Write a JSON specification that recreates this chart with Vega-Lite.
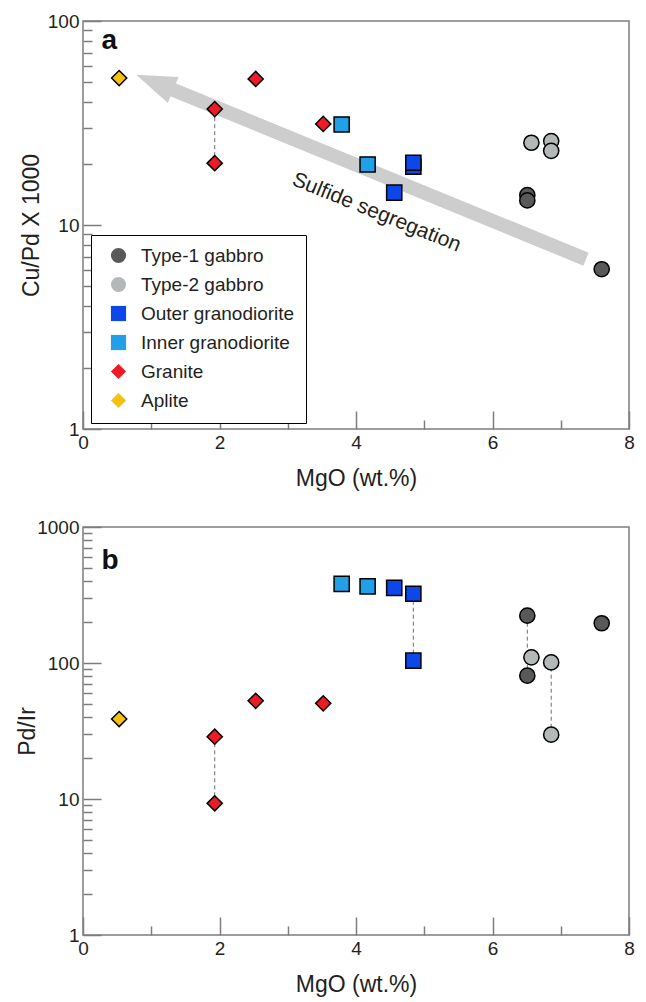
{
  "$schema": "https://vega.github.io/schema/vega-lite/v6.json",
  "padding": {"left": 15, "top": 11, "right": 4, "bottom": 8},
  "spacing": 26,
  "config": {
    "font": "Liberation Sans",
    "view": {"stroke": "#7d7d7d", "strokeWidth": 1.5},
    "axis": {
      "grid": false, "domain": false, "tickColor": "#7d7d7d", "tickWidth": 1.5,
      "labelFontSize": 19, "labelColor": "#231f20", "labelFont": "Liberation Sans",
      "titleFont": "Liberation Sans", "titleFontSize": 23, "titleFontWeight": "normal", "titleColor": "#231f20",
      "labelFlush": false, "labelOverlap": false, "labelPadding": 22
    }
  },
  "datasets": {
    "samples": [
      {"group": "Aplite", "mgo": 0.53, "cupd": 52.5, "pdir": 38.7},
      {"group": "Granite", "mgo": 1.93, "cupd": 37, "pdir": 28.7},
      {"group": "Granite", "mgo": 1.93, "cupd": 20.1, "pdir": 9.3},
      {"group": "Granite", "mgo": 2.53, "cupd": 52, "pdir": 52.7},
      {"group": "Granite", "mgo": 3.52, "cupd": 31.3, "pdir": 50.5},
      {"group": "Inner granodiorite", "mgo": 3.79, "cupd": 31.1, "pdir": 382},
      {"group": "Inner granodiorite", "mgo": 4.17, "cupd": 19.8, "pdir": 366},
      {"group": "Outer granodiorite", "mgo": 4.56, "cupd": 14.4, "pdir": 357},
      {"group": "Outer granodiorite", "mgo": 4.84, "cupd": 19.3, "pdir": 104},
      {"group": "Outer granodiorite", "mgo": 4.84, "cupd": 20.2, "pdir": 323},
      {"group": "Type-1 gabbro", "mgo": 6.51, "cupd": 14.0, "pdir": 223},
      {"group": "Type-1 gabbro", "mgo": 6.51, "cupd": 13.2, "pdir": 80.7},
      {"group": "Type-1 gabbro", "mgo": 7.6, "cupd": 6.07, "pdir": 196},
      {"group": "Type-2 gabbro", "mgo": 6.57, "cupd": 25.3, "pdir": 110},
      {"group": "Type-2 gabbro", "mgo": 6.86, "cupd": 25.8, "pdir": 101},
      {"group": "Type-2 gabbro", "mgo": 6.86, "cupd": 23.1, "pdir": 29.7}
    ],
    "linksA": [
      {"mgo": 1.93, "lo": 20.1, "hi": 37}
    ],
    "linksB": [
      {"mgo": 1.93, "lo": 9.3, "hi": 28.7},
      {"mgo": 4.84, "lo": 104, "hi": 323},
      {"mgo": 6.51, "lo": 80.7, "hi": 223},
      {"mgo": 6.86, "lo": 29.7, "hi": 101}
    ],
    "arrowA": [
      {"mgo": 7.37, "cupd": 6.8},
      {"mgo": 1.3, "cupd": 46.3}
    ]
  },
  "resolve": {
    "scale": {"x": "independent", "y": "independent", "fill": "independent", "shape": "independent"},
    "legend": {"fill": "independent", "shape": "independent"}
  },
  "vconcat": [
    {
      "width": 546,
      "height": 408,
      "layer": [
        {
          "data": {"name": "arrowA"},
          "mark": {"type": "line", "color": "#cdcdcd", "strokeWidth": 14, "strokeCap": "butt"},
          "encoding": {
            "x": {"field": "mgo", "type": "quantitative", "scale": {"domain": [0, 8], "nice": false, "zero": false}},
            "y": {"field": "cupd", "type": "quantitative", "scale": {"type": "log", "domain": [1, 100], "nice": false}}
          }
        },
        {
          "data": {"values": [{}]},
          "mark": {"type": "point", "shape": "M0,0L2.115,0.117L1.581,1.411Z", "size": 1600, "filled": true, "color": "#cdcdcd", "opacity": 1, "strokeWidth": 0},
          "encoding": {
            "x": {"datum": 0.78, "type": "quantitative", "scale": {"domain": [0, 8], "nice": false, "zero": false}},
            "y": {"datum": 54.5, "type": "quantitative", "scale": {"type": "log", "domain": [1, 100], "nice": false}}
          }
        },
        {
          "data": {"values": [{}]},
          "mark": {"type": "text", "text": "Sulfide segregation", "angle": 22, "fontSize": 21, "align": "center", "baseline": "middle", "color": "#231f20"},
          "encoding": {
            "x": {"datum": 4.3, "type": "quantitative", "scale": {"domain": [0, 8], "nice": false, "zero": false}},
            "y": {"datum": 11.5, "type": "quantitative", "scale": {"type": "log", "domain": [1, 100], "nice": false}}
          }
        },
        {
          "data": {"values": [{}]},
          "mark": {"type": "text", "text": "a", "fontSize": 28, "fontWeight": "bold", "align": "left", "baseline": "alphabetic", "color": "#111111"},
          "encoding": {
            "x": {"datum": 0.27, "type": "quantitative", "scale": {"domain": [0, 8], "nice": false, "zero": false}},
            "y": {"datum": 72.9, "type": "quantitative", "scale": {"type": "log", "domain": [1, 100], "nice": false}}
          }
        },
        {
          "data": {"name": "linksA"},
          "mark": {"type": "rule", "color": "#6d6d6d", "strokeWidth": 1, "strokeDash": [4, 3]},
          "encoding": {
            "x": {"field": "mgo", "type": "quantitative", "scale": {"domain": [0, 8], "nice": false, "zero": false}},
            "y": {"field": "lo", "type": "quantitative", "scale": {"type": "log", "domain": [1, 100], "nice": false}},
            "y2": {"field": "hi"}
          }
        },
        {
          "data": {"name": "samples"},
          "mark": {"type": "point", "filled": true, "size": 230, "stroke": "black", "strokeWidth": 1.5, "opacity": 1},
          "encoding": {
            "x": {
              "field": "mgo", "type": "quantitative",
              "scale": {"domain": [0, 8], "nice": false, "zero": false},
              "axis": {
                "title": "MgO (wt.%)", "values": [0, 1, 2, 3, 4, 5, 6, 7, 8],
                "labelExpr": "datum.value % 2 == 0 ? toString(datum.value) : ''",
                "tickSize": {"condition": {"test": "datum.value % 2 == 0", "value": -18}, "value": -9},
                "titlePadding": 6
              }
            },
            "y": {
              "field": "cupd", "type": "quantitative",
              "scale": {"type": "log", "domain": [1, 100], "nice": false},
              "axis": {
                "title": "Cu/Pd X 1000",
                "values": [1, 2, 3, 4, 5, 6, 7, 8, 9, 10, 20, 30, 40, 50, 60, 70, 80, 90, 100],
                "labelExpr": "indexof([1,10,100,1000], datum.value) >= 0 ? toString(datum.value) : ''",
                "tickSize": {"condition": {"test": "indexof([1,10,100,1000], datum.value) >= 0", "value": -18}, "value": -9},
                "titlePadding": 4
              }
            },
            "fill": {
              "field": "group", "type": "nominal",
              "scale": {
                "domain": ["Type-1 gabbro", "Type-2 gabbro", "Outer granodiorite", "Inner granodiorite", "Granite", "Aplite"],
                "range": ["#58595b", "#b5b8b8", "#0d47ea", "#21a0e8", "#ed1c24", "#f4c20d"]
              },
              "legend": {
                "title": null, "orient": "none", "legendX": 8, "legendY": 214,
                "fillColor": "white", "strokeColor": "black", "padding": 11,
                "symbolOffset": 7, "symbolSize": 230, "symbolStrokeColor": "black", "symbolStrokeWidth": 1.5,
                "labelFontSize": 19, "labelColor": "#231f20", "labelFont": "Liberation Sans",
                "labelExpr": "datum.label + '\u00a0\u00a0\u00a0'",
                "rowPadding": 6, "labelOffset": 13, "labelLimit": 300
              }
            },
            "shape": {
              "field": "group", "type": "nominal",
              "scale": {
                "domain": ["Type-1 gabbro", "Type-2 gabbro", "Outer granodiorite", "Inner granodiorite", "Granite", "Aplite"],
                "range": ["circle", "circle", "square", "square", "diamond", "diamond"]
              },
              "legend": {
                "title": null, "orient": "none", "legendX": 8, "legendY": 214,
                "fillColor": "white", "strokeColor": "black", "padding": 11,
                "symbolOffset": 7, "symbolSize": 230, "symbolStrokeColor": "black", "symbolStrokeWidth": 1.5,
                "labelFontSize": 19, "labelColor": "#231f20", "labelFont": "Liberation Sans",
                "labelExpr": "datum.label + '\u00a0\u00a0\u00a0'",
                "rowPadding": 6, "labelOffset": 13, "labelLimit": 300
              }
            }
          }
        }
      ]
    },
    {
      "width": 546,
      "height": 408,
      "layer": [
        {
          "data": {"values": [{}]},
          "mark": {"type": "text", "text": "b", "fontSize": 28, "fontWeight": "bold", "align": "left", "baseline": "alphabetic", "color": "#111111"},
          "encoding": {
            "x": {"datum": 0.27, "type": "quantitative", "scale": {"domain": [0, 8], "nice": false, "zero": false}},
            "y": {"datum": 490, "type": "quantitative", "scale": {"type": "log", "domain": [1, 1000], "nice": false}}
          }
        },
        {
          "data": {"name": "linksB"},
          "mark": {"type": "rule", "color": "#6d6d6d", "strokeWidth": 1, "strokeDash": [4, 3]},
          "encoding": {
            "x": {"field": "mgo", "type": "quantitative", "scale": {"domain": [0, 8], "nice": false, "zero": false}},
            "y": {"field": "lo", "type": "quantitative", "scale": {"type": "log", "domain": [1, 1000], "nice": false}},
            "y2": {"field": "hi"}
          }
        },
        {
          "data": {"name": "samples"},
          "mark": {"type": "point", "filled": true, "size": 230, "stroke": "black", "strokeWidth": 1.5, "opacity": 1},
          "encoding": {
            "x": {
              "field": "mgo", "type": "quantitative",
              "scale": {"domain": [0, 8], "nice": false, "zero": false},
              "axis": {
                "title": "MgO (wt.%)", "values": [0, 1, 2, 3, 4, 5, 6, 7, 8],
                "labelExpr": "datum.value % 2 == 0 ? toString(datum.value) : ''",
                "tickSize": {"condition": {"test": "datum.value % 2 == 0", "value": -18}, "value": -9},
                "titlePadding": 6
              }
            },
            "y": {
              "field": "pdir", "type": "quantitative",
              "scale": {"type": "log", "domain": [1, 1000], "nice": false},
              "axis": {
                "title": "Pd/Ir",
                "values": [1, 2, 3, 4, 5, 6, 7, 8, 9, 10, 20, 30, 40, 50, 60, 70, 80, 90, 100, 200, 300, 400, 500, 600, 700, 800, 900, 1000],
                "labelExpr": "indexof([1,10,100,1000], datum.value) >= 0 ? toString(datum.value) : ''",
                "tickSize": {"condition": {"test": "indexof([1,10,100,1000], datum.value) >= 0", "value": -18}, "value": -9},
                "titlePadding": -3
              }
            },
            "fill": {
              "field": "group", "type": "nominal",
              "scale": {
                "domain": ["Type-1 gabbro", "Type-2 gabbro", "Outer granodiorite", "Inner granodiorite", "Granite", "Aplite"],
                "range": ["#58595b", "#b5b8b8", "#0d47ea", "#21a0e8", "#ed1c24", "#f4c20d"]
              },
              "legend": null
            },
            "shape": {
              "field": "group", "type": "nominal",
              "scale": {
                "domain": ["Type-1 gabbro", "Type-2 gabbro", "Outer granodiorite", "Inner granodiorite", "Granite", "Aplite"],
                "range": ["circle", "circle", "square", "square", "diamond", "diamond"]
              },
              "legend": null
            }
          }
        }
      ]
    }
  ]
}
